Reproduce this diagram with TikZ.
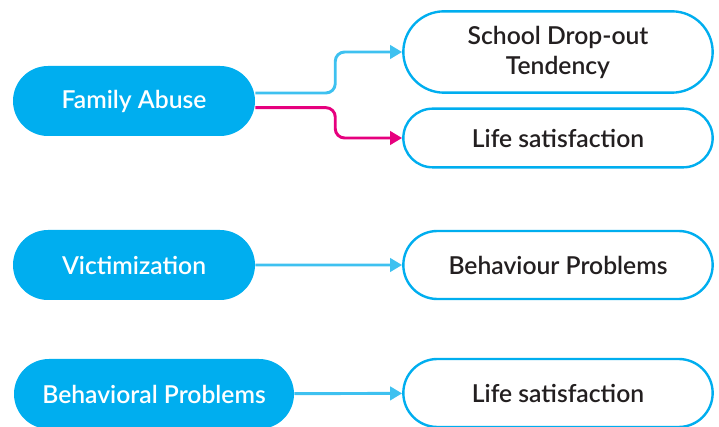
\documentclass[tikz,border=0pt]{standalone}
\usepackage{fontspec}
\setmainfont{Lato}
\newfontfamily\labelfont{Lato Semibold}
\usetikzlibrary{shapes.misc}
\usetikzlibrary{arrows.meta}
\definecolor{pathblue}{HTML}{00AEEF}
\definecolor{linkblue}{HTML}{3EC1F0}
\definecolor{linkpink}{HTML}{E6007E}
\definecolor{textdark}{HTML}{231F20}
\tikzstyle{factor}=[rounded rectangle, fill=pathblue, text=white, inner sep=0pt,
  font=\fontsize{18.5}{22.5}\labelfont]
\tikzstyle{outcome}=[rounded rectangle, draw=pathblue, line width=1.8pt, fill=white,
  text=textdark, inner sep=0pt, minimum width=232pt, align=center,
  font=\fontsize{18.5}{22.5}\labelfont]
\tikzstyle{link}=[linkblue, line width=2.2pt, rounded corners=7pt,
  -{Triangle[length=9pt,width=10pt]}]

\begin{document}
\begin{tikzpicture}[x=0.75pt, y=-0.75pt]
          \useasboundingbox (0, 0) rectangle (719, 427);
          \node[factor, minimum width=181.5pt, minimum height=52.5pt]
            (abuse) at (134, 101) {Family Abuse};
          \node[factor, minimum width=181.5pt, minimum height=52.5pt]
            (victim) at (134, 265) {Victimization};
          \node[factor, minimum width=210pt, minimum height=52.5pt]
            (behav) at (154, 394) {Behavioral Problems};
          \node[outcome, minimum height=61pt]
            (dropout) at (558, 52) {School Drop-out\\Tendency};
          \node[outcome, minimum height=44pt]
            (life) at (558, 138) {Life satisfaction};
          \node[outcome, minimum height=51pt]
            (problems) at (558, 265) {Behaviour Problems};
          \node[outcome, minimum height=51pt]
            (lifetwo) at (558, 393) {Life satisfaction};
          \draw[link]
            ([yshift=6pt]abuse.east)
            -- ++(80, 0)
            |- (dropout.west);
          \draw[link, linkpink]
            ([yshift=-5pt]abuse.east)
            -- ++(80, 0)
            |- (life.west);
          \draw[link] (victim) -- (problems);
          \draw[link] (behav) -- (lifetwo);
        \end{tikzpicture}
\end{document}
